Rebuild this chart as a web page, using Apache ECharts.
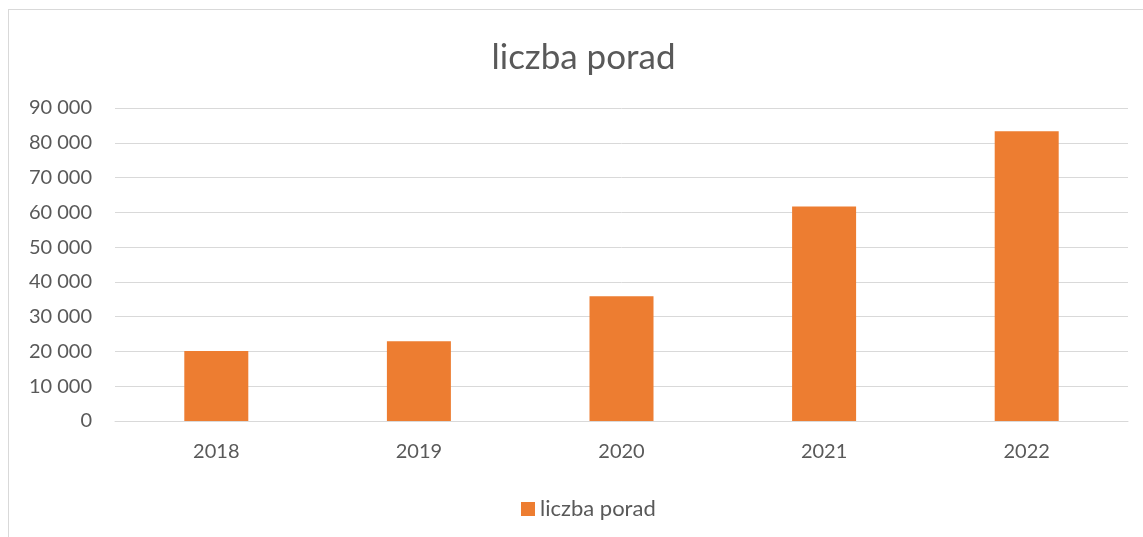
<!DOCTYPE html>
<html>
<head>
<meta charset="utf-8">
<script src="https://cdn.jsdelivr.net/npm/echarts@6/dist/echarts.min.js"></script>
<style>
  html, body { margin: 0; padding: 0; width: 1143px; height: 537px; overflow: hidden; background: #fff; }
  #frame {
    position: absolute; left: 8px; top: 9px; width: 1150px; height: 540px;
    border-top: 1px solid #d9d9d9; border-left: 1px solid #d9d9d9; box-sizing: border-box;
  }
  #chart { width: 1149px; height: 539px; }
</style>
</head>
<body>
<div id="frame"><div id="chart"></div></div>
<script>
// data
const years = ['2018', '2019', '2020', '2021', '2022']
const porady = [20100, 22900, 35900, 61700, 83300]
const seriesName = 'liczba porad'

const textColor = '#595959'
const gridColor = '#d9d9d9'
const font = 'Lato, "Open Sans", sans-serif'

// "90 000" style thousands separator
function fmt(v) {
  return String(v).replace(/\B(?=(\d{3})+(?!\d))/g, ' ')
}

const chart = echarts.init(document.getElementById('chart'))
chart.setOption({
  animation: false,
  title: {
    text: seriesName,
    left: 'center',
    top: 25,
    textStyle: { color: textColor, fontSize: 35, fontWeight: 'normal', fontFamily: font },
  },
  legend: {
    data: [seriesName],
    left: 507,
    top: 483,
    icon: 'rect',
    itemWidth: 14,
    itemHeight: 14,
    textStyle: { color: textColor, fontSize: 22, fontFamily: font },
  },
  grid: { left: 106, top: 98, width: 1013, height: 313 },
  xAxis: {
    type: 'category',
    data: years,
    axisLine: { lineStyle: { color: gridColor, width: 1 } },
    axisTick: { show: false },
    axisLabel: { color: textColor, fontSize: 20, fontFamily: font, margin: 21 },
  },
  yAxis: {
    type: 'value',
    min: 0,
    max: 90000,
    interval: 10000,
    axisLine: { show: false },
    axisTick: { show: false },
    splitLine: { lineStyle: { color: gridColor, width: 1 } },
    axisLabel: { color: textColor, fontSize: 20, fontFamily: font, margin: 23, formatter: fmt },
  },
  series: [
    {
      name: seriesName,
      type: 'bar',
      data: porady,
      barWidth: 64,
      itemStyle: { color: '#ed7d31' },
    },
  ],
})
</script>
</body>
</html>
